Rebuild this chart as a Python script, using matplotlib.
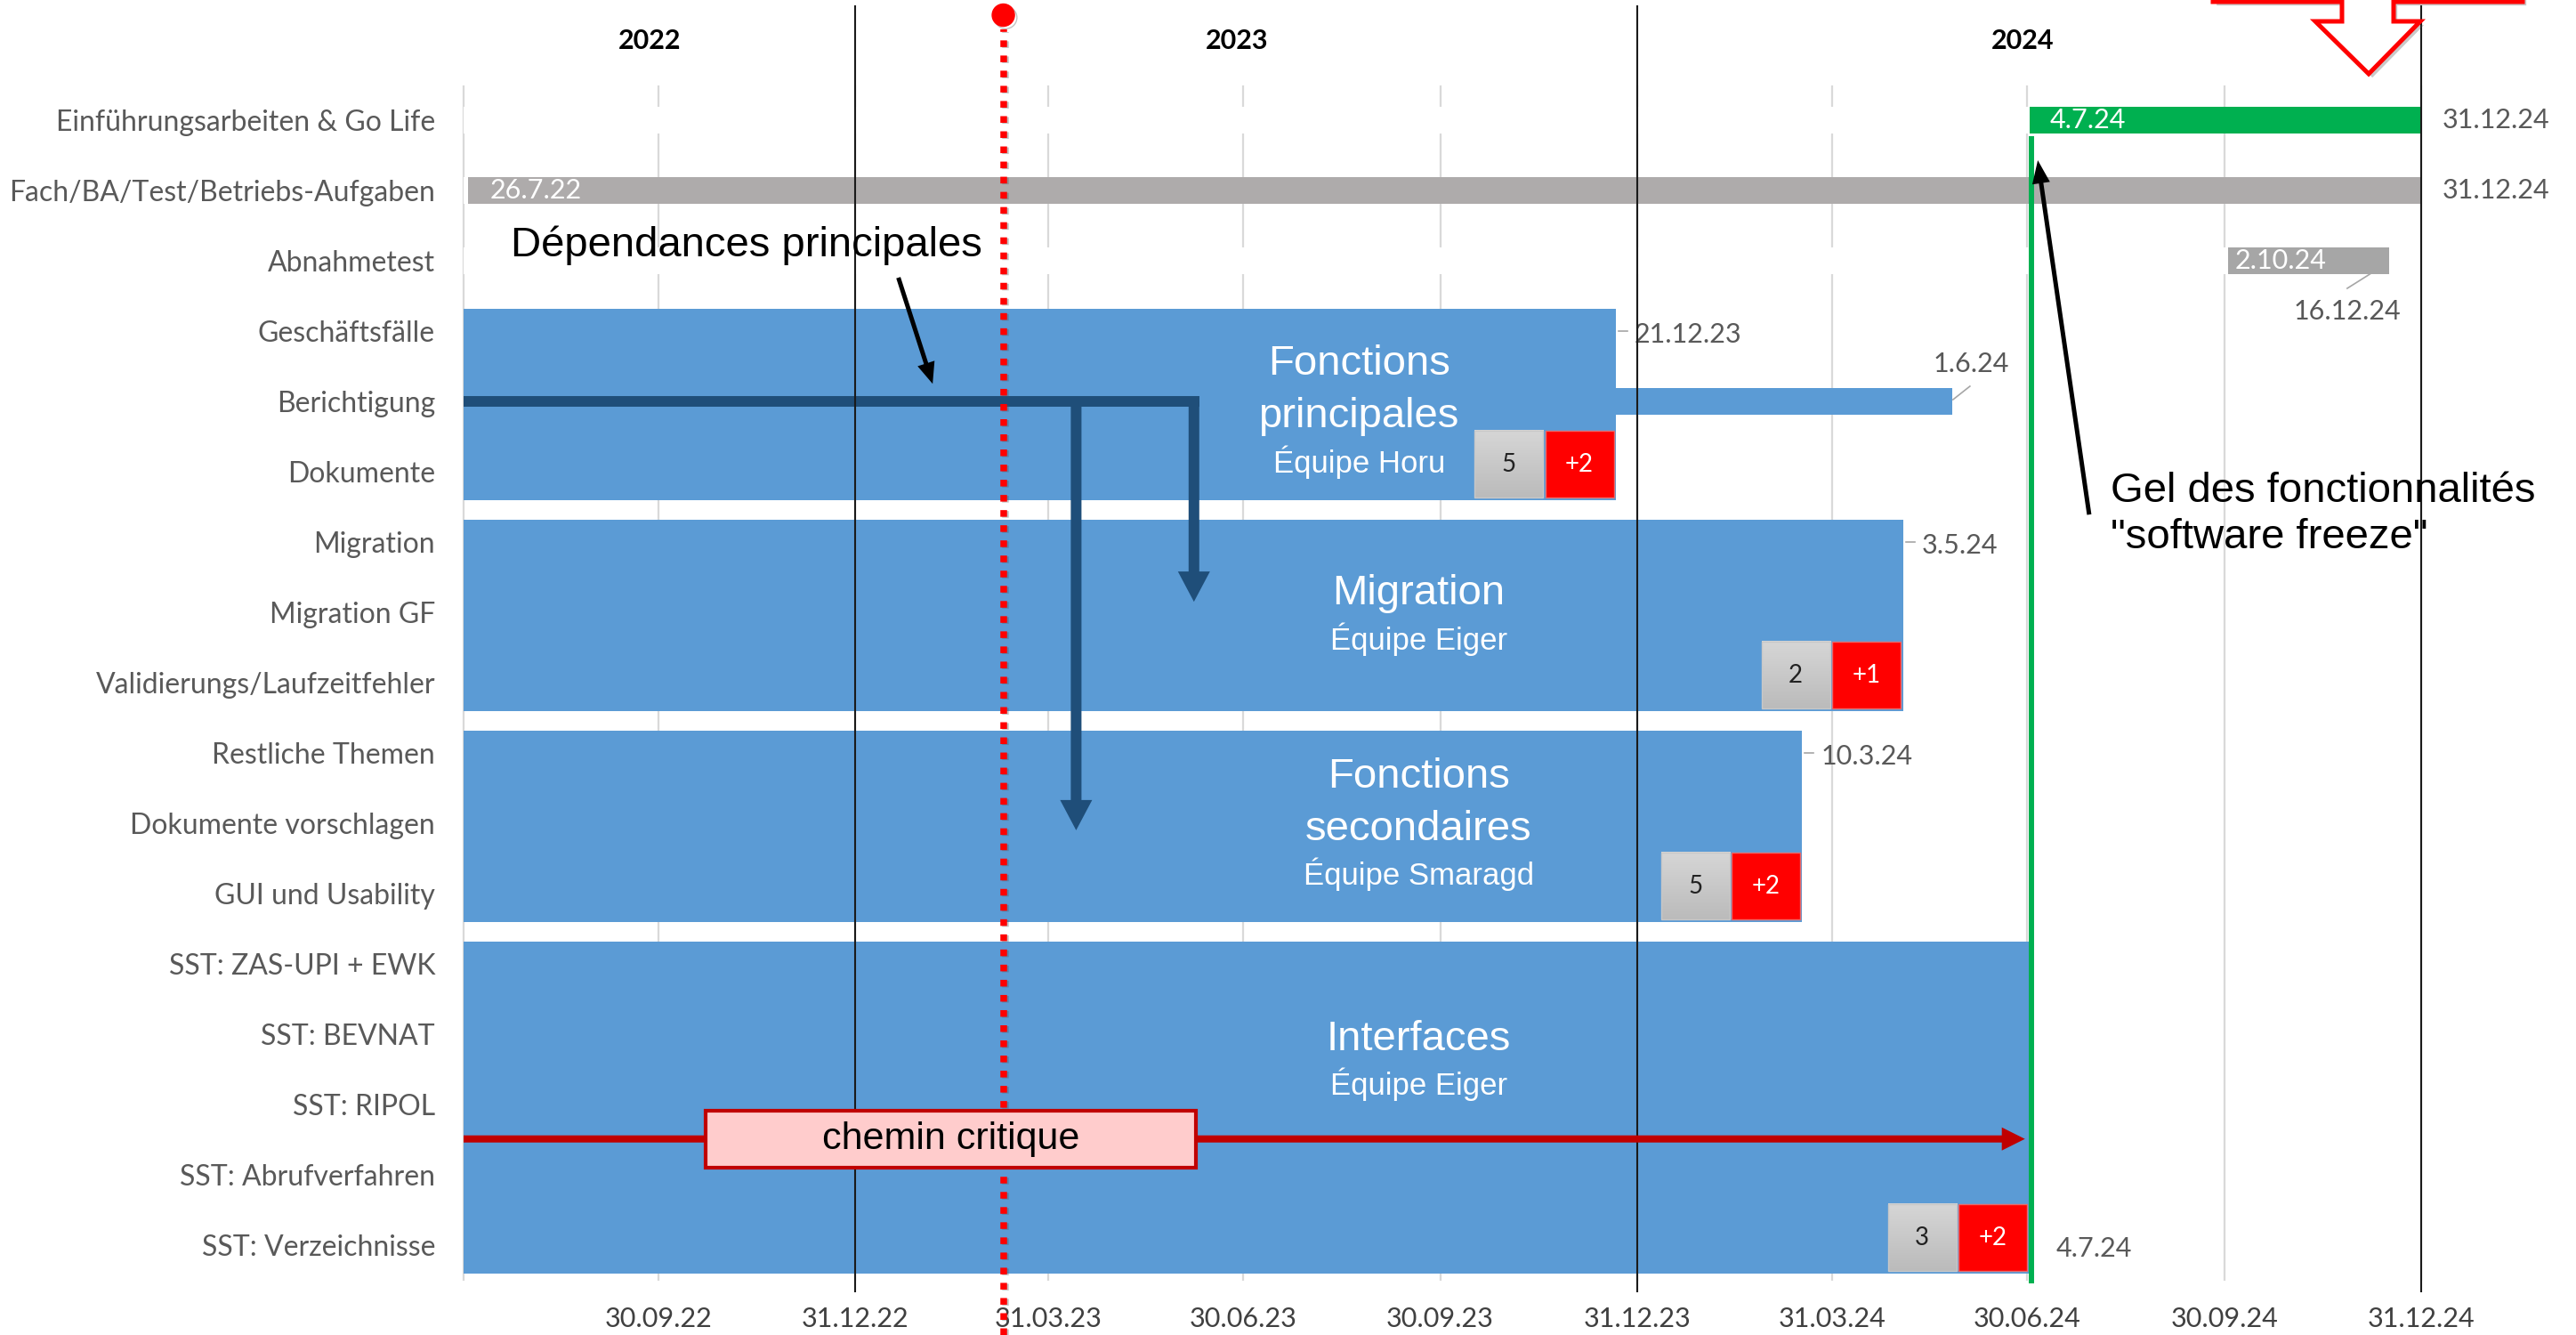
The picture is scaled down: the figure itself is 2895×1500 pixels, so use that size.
import datetime as dt
import numpy as np
import matplotlib
matplotlib.use("Agg")
import matplotlib.pyplot as plt
import matplotlib.dates as mdates
import matplotlib.patheffects as pe
from matplotlib.colors import LinearSegmentedColormap
from matplotlib.patches import Polygon, Rectangle

# ---- data -------------------------------------------------------------
tasks = ["Einführungsarbeiten & Go Life", "Fach/BA/Test/Betriebs-Aufgaben", "Abnahmetest",
         "Geschäftsfälle", "Berichtigung", "Dokumente",
         "Migration", "Migration GF", "Validierungs/Laufzeitfehler",
         "Restliche Themen", "Dokumente vorschlagen", "GUI und Usability",
         "SST: ZAS-UPI + EWK", "SST: BEVNAT", "SST: RIPOL", "SST: Abrufverfahren",
         "SST: Verzeichnisse"]

# single task bars
bar_rows = [0, 1, 2, 4]
bar_start = ["2024-07-01", "2022-07-03", "2024-10-02", "2022-07-01"]
bar_end = ["2024-12-31", "2024-12-31", "2024-12-16", "2024-05-26"]
bar_colors = ["#00B050", "#AEABAB", "#A6A6A6", "#5B9BD5"]
start_labels = ["4.7.24", "26.7.22", "2.10.24", ""]
end_labels = ["31.12.24", "31.12.24", "16.12.24", "1.6.24"]

# work packages (teams)
block_first = [3, 6, 9, 12]
block_last = [5, 8, 11, 16]
block_end = ["2023-12-21", "2024-05-03", "2024-03-17", "2024-07-01"]
block_titles = ["Fonctions\nprincipales", "Migration", "Fonctions\nsecondaires", "Interfaces"]
block_teams = ["Équipe Horu", "Équipe Eiger", "Équipe Smaragd", "Équipe Eiger"]
block_end_labels = ["21.12.23", "3.5.24", "10.3.24", "4.7.24"]
block_label_rows = [3, 6, 9, 16]
team_size = ["5", "2", "5", "3"]
team_extra = ["+2", "+1", "+2", "+2"]

axis_start = "2022-07-01"
axis_end = "2024-12-31"
quarter_ticks = ["2022-09-30", "2022-12-31", "2023-03-31", "2023-06-30", "2023-09-30",
                 "2023-12-31", "2024-03-31", "2024-06-30", "2024-09-30", "2024-12-31"]
year_lines = ["2022-12-31", "2023-12-31", "2024-12-31"]
year_labels = ["2022", "2023", "2024"]
today = "2023-03-10"
freeze = "2024-07-02"

# ---- layout (image pixels) ---------------------------------------------
W, H = 2895, 1500
P_LEFT, P_RIGHT, P_TOP, P_BOTTOM = 521, 2721, 95.5, 1438.5
LABEL_FONT = ["Lato", "DejaVu Sans"]
SHAPE_FONT = ["Liberation Sans", "DejaVu Sans"]
BLUE = "#5B9BD5"
DARKBLUE = "#1F4E79"
CRIT = "#C00000"


def num(s):
    return mdates.date2num(dt.datetime.strptime(s, "%Y-%m-%d"))


def yfrac(py):
    return (P_BOTTOM - py) / (P_BOTTOM - P_TOP)


fig = plt.figure(figsize=(W / 100, H / 100), dpi=100)
ax = fig.add_axes([P_LEFT / W, 1 - P_BOTTOM / H, (P_RIGHT - P_LEFT) / W, (P_BOTTOM - P_TOP) / H])
x0 = num(axis_start)
ax.set_xlim(x0, num(axis_end))
ax.set_ylim(len(tasks) - 0.5, -0.5)
for s in ax.spines.values():
    s.set_visible(False)
xt = ax.get_xaxis_transform()


def off(x, y, dx, dy):
    """data point shifted by dx, dy image pixels (dy downwards)"""
    px, py = ax.transData.transform((x, y))
    return ax.transData.inverted().transform((px + dx, py - dy))


def arrow(p0, p1, lw, hl, hw, color, z):
    T = ax.transData
    a, b = T.transform([p0, p1])
    u = (b - a) / np.hypot(*(b - a))
    n = np.array([-u[1], u[0]])
    base = b - u * hl
    pts = [a + n * lw / 2, base + n * lw / 2, base + n * hw / 2, b,
           base - n * hw / 2, base - n * lw / 2, a - n * lw / 2]
    ax.add_patch(Polygon(T.inverted().transform(pts), closed=True, fc=color, ec="none",
                         zorder=z, clip_on=False))


# gridlines
grid_x = [x0] + [num(t) for t in quarter_ticks]
ax.vlines(grid_x, -0.5, len(tasks) - 0.5, color="#D9D9D9", lw=1.6, zorder=0, clip_on=False)

# axes ticks
ax.set_yticks(range(len(tasks)))
ax.set_yticklabels(tasks, fontsize=23, color="#595959", family=LABEL_FONT)
ax.tick_params(axis="y", length=0, pad=23)
ax.set_xticks([num(t) for t in quarter_ticks])
ax.xaxis.set_major_formatter(mdates.DateFormatter("%d.%m.%y"))
ax.tick_params(axis="x", length=0, pad=21, labelsize=22, labelcolor="#404040")
for lab in ax.get_xticklabels():
    lab.set_family(LABEL_FONT)

# task bars (with white spacer like the excel stacked bar)
starts = np.array([num(s) for s in bar_start])
ends = np.array([num(s) for s in bar_end])
ax.barh(bar_rows, starts - x0, left=x0, height=0.38, color="white", zorder=1)
ax.barh(bar_rows, ends - starts, left=starts, height=0.38, color=bar_colors, zorder=2)

start_off = [23, 25, 7, 0]
for r, s, lab, dx in zip(bar_rows, starts, start_labels, start_off):
    if lab:
        ax.annotate(lab, (s, r), xytext=(dx, 0), textcoords="offset pixels", va="center",
                    ha="left", fontsize=22, color="white", family=LABEL_FONT, zorder=6)

# end labels: right of bar, or shifted with leader line
end_place = [(24, 0, None), (24, 0, None), (-47, 57, (-20, 14, -47, 31)), (21, -42, (1, -2, 20, -17))]
for r, e, lab, (dx, dy, lead) in zip(bar_rows, ends, end_labels, end_place):
    if lead is None:
        ax.annotate(lab, (e, r), xytext=(dx, 0), textcoords="offset pixels", va="center",
                    ha="left", fontsize=22, color="#595959", family=LABEL_FONT, zorder=6,
                    annotation_clip=False)
    else:
        tx, ty = off(e, r, dx, dy)
        ax.text(tx, ty, lab, va="center", ha="center", fontsize=22, color="#595959",
                family=LABEL_FONT, zorder=6)
        a = off(e, r, lead[0], lead[1])
        b = off(e, r, lead[2], lead[3])
        ax.plot([a[0], b[0]], [a[1], b[1]], color="#A6A6A6", lw=1.2, zorder=6)

# work package blocks
b_end = np.array([num(s) for s in block_end])
b_top = np.array(block_first) - 0.32
b_bot = np.array(block_last) + 0.40
ax.barh((b_top + b_bot) / 2, b_end - x0, left=x0, height=b_bot - b_top, color=BLUE, zorder=3)

text_x = ["2023-08-23", "2023-09-20", "2023-09-20", "2023-09-20"]
team_y = [4.86, 7.38, 10.73, 13.71]
for tx, ty, title, team in zip(text_x, team_y, block_titles, block_teams):
    lines = title.split("\n")
    for k, line in enumerate(lines):
        ax.text(num(tx), ty - 0.64 - 0.75 * (len(lines) - 1 - k), line, ha="center",
                va="center", fontsize=34, color="white", family=SHAPE_FONT, zorder=5)
    ax.text(num(tx), ty, team, ha="center", va="center", fontsize=25, color="white",
            family=SHAPE_FONT, zorder=5)

for e, r, lab in zip(b_end, block_label_rows, block_end_labels):
    ax.annotate(lab, (e, r), xytext=(21 if lab != "4.7.24" else 30, -4),
                textcoords="offset pixels", va="center", ha="left", fontsize=22,
                color="#595959", family=LABEL_FONT, zorder=6)
    if lab != "4.7.24":
        a = off(e, r, 3, 0)
        b = off(e, r, 13, 0)
        ax.plot([a[0], b[0]], [a[1], b[1]], color="#A6A6A6", lw=1.2, zorder=6)

# team size badges
gray_cmap = LinearSegmentedColormap.from_list("g", ["#D6D6D6", "#BBBBBB"])
grad = np.linspace(0, 1, 64).reshape(-1, 1)
bw, bh = 32, 0.95
for e, bb, n_team, n_extra in zip(b_end, b_bot, team_size, team_extra):
    red_l = e - 1 - bw
    gray_l = red_l - 1 - bw
    top = bb - 0.03 - bh
    ax.imshow(grad, extent=[gray_l, gray_l + bw, bb - 0.03, top], aspect="auto",
              cmap=gray_cmap, zorder=4)
    ax.add_patch(Rectangle((gray_l, top), bw, bh, fc="none", ec="#C8C8C8", lw=1, zorder=4))
    ax.add_patch(Rectangle((red_l, top), bw, bh, fc="#FF0000", ec="#E86A6A", lw=1, zorder=4))
    ax.text(gray_l + bw / 2, top + bh / 2, n_team, ha="center", va="center", fontsize=20,
            color="#222222", family=LABEL_FONT, zorder=5)
    ax.text(red_l + bw / 2, top + bh / 2, n_extra, ha="center", va="center", fontsize=20,
            color="white", family=LABEL_FONT, zorder=5)

# main dependencies
dep_x = [num("2023-06-07"), num("2023-04-13")]
dep_tip = [6.85, 10.1]
ax.plot([x0, dep_x[0]], [4, 4], color=DARKBLUE, lw=8.6, solid_capstyle="projecting", zorder=5)
for dx_, tip in zip(dep_x, dep_tip):
    arrow((dx_, 4), (dx_, tip), 12, 34, 36, DARKBLUE, 5)
ax.text(num("2022-07-23"), 1.78, "Dépendances principales", ha="left", va="center",
        fontsize=34, color="black", family=SHAPE_FONT, zorder=11)
arrow((num("2023-01-20"), 2.24), (num("2023-02-05"), 3.75), 5, 24, 20, "black", 11)

# year separators and year labels
ax.vlines([num(y) for y in year_lines], yfrac(1452), yfrac(6), transform=xt, color="#1A1A1A",
          lw=1.5, zorder=6, clip_on=False)
year_x = ["2022-09-26", "2023-06-27", "2024-06-28"]
for yx, lab in zip(year_x, year_labels):
    ax.text(num(yx), yfrac(46), lab, transform=xt, ha="center", va="center", fontsize=22,
            fontweight="bold", color="black", family=LABEL_FONT)

# today line
shadow = [pe.SimpleLineShadow(offset=(2, -2), shadow_color="#555555", alpha=0.35), pe.Normal()]
ax.plot([num(today)] * 2, [yfrac(1500), yfrac(33)], transform=xt, color="#FF0000", lw=5.4,
        linestyle=(0, (1.0, 1.27)), zorder=7, clip_on=False, path_effects=shadow)
ax.plot([num(today)], [yfrac(17)], "o", ms=18, color="#FF0000", transform=xt, zorder=7,
        clip_on=False, path_effects=shadow)

# software freeze
ax.vlines(num(freeze), yfrac(1442), yfrac(153), transform=xt, color="#00B050", lw=4.3,
          zorder=8, clip_on=False)
ax.text(num("2024-08-08"), 5.28, "Gel des fonctionnalités", ha="left", va="center",
        fontsize=34, color="black", family=SHAPE_FONT, zorder=11)
ax.text(num("2024-08-08"), 5.94, "\"software freeze\"", ha="left", va="center",
        fontsize=34, color="black", family=SHAPE_FONT, zorder=11)
arrow((num("2024-07-29"), 5.61), (num("2024-07-05"), 0.57), 5, 26, 20, "black", 11)

# critical path
crit_y = 14.49
arrow((x0, crit_y), (num("2024-06-29"), crit_y), 8, 26, 26, CRIT, 9)
ax.add_patch(Rectangle((num("2022-10-22"), 14.09), num("2023-06-08") - num("2022-10-22"), 0.81,
                       fc="#FFCCCC", ec=CRIT, lw=3, zorder=10))
ax.text((num("2022-10-22") + num("2023-06-08")) / 2, crit_y, "chemin critique", ha="center",
        va="center", fontsize=31, color="black", family=SHAPE_FONT, zorder=11)

# red outline arrow at the top right (figure pixels)
shape = [(2487, -40), (2487, 2), (2632, 2), (2632, 24), (2602, 24), (2662, 83), (2720, 24),
         (2690, 24), (2690, 2), (2835, 2), (2835, -40)]
fig.add_artist(Polygon([(x / W, 1 - y / H) for x, y in shape], closed=True, fc="white",
                       ec="#FF0000", lw=3.6, joinstyle="miter", transform=fig.transFigure,
                       path_effects=[pe.withSimplePatchShadow(offset=(3, -3), alpha=0.3)]))

ax.set_xlim(x0, num(axis_end))
ax.set_ylim(len(tasks) - 0.5, -0.5)
fig.savefig("out.png", dpi=100)
